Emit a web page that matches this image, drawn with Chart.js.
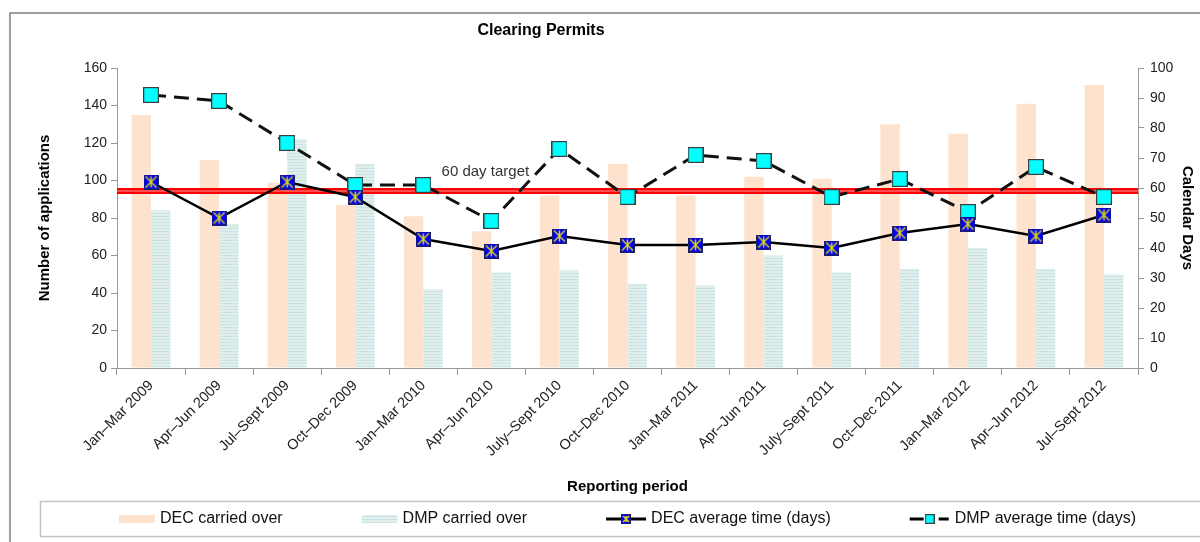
<!DOCTYPE html>
<html>
<head>
<meta charset="utf-8">
<script src="https://cdn.jsdelivr.net/npm/chart.js@4.4.1/dist/chart.umd.min.js"></script>
<style>
  body { margin: 0; background: #fff; }
  #wrap { width: 1200px; height: 542px; }
</style>
</head>
<body>
<div id="wrap"><canvas id="chart" width="1200" height="542"></canvas></div>
<script>
// data
var categories = ['Jan\u2013Mar 2009', 'Apr\u2013Jun 2009', 'Jul\u2013Sept 2009', 'Oct\u2013Dec 2009',
    'Jan\u2013Mar 2010', 'Apr\u2013Jun 2010', 'July\u2013Sept 2010', 'Oct\u2013Dec 2010',
    'Jan\u2013Mar 2011', 'Apr\u2013Jun 2011', 'July\u2013Sept 2011', 'Oct\u2013Dec 2011',
    'Jan\u2013Mar 2012', 'Apr\u2013Jun 2012', 'Jul\u2013Sept 2012'];
var decCarried = [135, 111, 99, 87, 81, 73, 92, 109, 92, 102, 101, 130, 125, 141, 151];
var dmpCarried = [84, 77, 122, 109, 42, 51, 52, 45, 44, 60, 51, 53, 64, 53, 50];
var decAvgDays = [62, 50, 62, 57, 43, 39, 44, 41, 41, 42, 40, 45, 48, 44, 51];
var dmpAvgDays = [91, 89, 75, 61, 61, 49, 73, 57, 71, 69, 57, 63, 52, 67, 57];
var targetDays = 59;
var targetLabel = '60 day target';
var appsMax = 160, appsStep = 20;
var daysMax = 100, daysStep = 10;

var FONT = "'Liberation Sans', Arial, sans-serif";
Chart.defaults.font.family = FONT;
Chart.defaults.color = '#222';

var canvas = document.getElementById('chart');
var ctx = canvas.getContext('2d');

var peach = '#fde3cd';

// horizontal hatch for DMP bars
var pc = document.createElement('canvas');
pc.width = 4; pc.height = 3;
var pctx = pc.getContext('2d');
pctx.fillStyle = '#e0efed';
pctx.fillRect(0, 0, 4, 3);
pctx.fillStyle = '#cbe3e3';
pctx.fillRect(0, 0, 4, 1);
var hatch = ctx.createPattern(pc, 'repeat');

function decMarker(size) {
    var c = document.createElement('canvas');
    c.width = size; c.height = size;
    var g = c.getContext('2d');
    g.fillStyle = '#0000ff';
    g.fillRect(1, 1, size - 2, size - 2);
    g.strokeStyle = '#1c1c70';
    g.lineWidth = 1;
    g.strokeRect(0.5, 0.5, size - 1, size - 1);
    g.strokeStyle = '#e6e000';
    g.lineWidth = 1.4;
    g.beginPath();
    g.moveTo(2, 2); g.lineTo(size - 2, size - 2);
    g.moveTo(size - 2, 2); g.lineTo(2, size - 2);
    g.moveTo(size / 2, 2); g.lineTo(size / 2, size - 2);
    g.stroke();
    return c;
}

function dmpMarker(size) {
    var c = document.createElement('canvas');
    c.width = size; c.height = size;
    var g = c.getContext('2d');
    g.fillStyle = '#00ffff';
    g.fillRect(1, 1, size - 2, size - 2);
    g.strokeStyle = '#3c3c3c';
    g.lineWidth = 1.2;
    g.strokeRect(0.6, 0.6, size - 1.2, size - 1.2);
    return c;
}

var decPoint = decMarker(15);
var dmpPoint = dmpMarker(16);

var targetPlugin = {
    id: 'target',
    beforeDatasetsDraw: function (chart) { chart.$targetDone = false; },
    beforeDatasetDraw: function (chart, args) {
        if (chart.$targetDone || args.meta.type !== 'line') return;
        chart.$targetDone = true;
        var a = chart.chartArea;
        var y = chart.scales.y1.getPixelForValue(targetDays);
        var c = chart.ctx;
        c.save();
        c.beginPath();
        c.moveTo(a.left, y); c.lineTo(a.right, y);
        c.strokeStyle = '#ff0000';
        c.lineWidth = 6;
        c.stroke();
        c.beginPath();
        c.moveTo(a.left, y); c.lineTo(a.right, y);
        c.strokeStyle = '#ff9a9a';
        c.lineWidth = 1.2;
        c.stroke();
        c.font = '15px ' + FONT;
        c.fillStyle = '#333';
        c.textAlign = 'center';
        c.textBaseline = 'middle';
        c.fillText(targetLabel, chart.scales.x.getPixelForValue(5) - 6, y - 19);
        c.restore();
    }
};

var decorPlugin = {
    id: 'decor',
    afterDraw: function (chart) {
        var c = chart.ctx;
        var a = chart.chartArea;
        c.save();
        // outer frame
        c.strokeStyle = '#808080';
        c.lineWidth = 1.5;
        c.beginPath();
        c.moveTo(10, 542); c.lineTo(10, 13); c.lineTo(1200, 13);
        c.stroke();
        // title
        c.fillStyle = '#000';
        c.font = 'bold 16px ' + FONT;
        c.textAlign = 'center';
        c.textBaseline = 'middle';
        c.fillText('Clearing Permits', 541, 31);
        // legend
        c.strokeStyle = '#c4c4c4';
        c.lineWidth = 1.5;
        c.strokeRect(40.5, 501.5, 1180, 35);
        c.font = '16px ' + FONT;
        c.textAlign = 'left';
        var ds = chart.data.datasets;
        var order = [0, 1, 2, 3];
        var iconW = [36, 36, 40, 40];
        var gap = 5, spacing = 79;
        var total = spacing * 3;
        order.forEach(function (i) { total += iconW[i] + gap + c.measureText(ds[i].label).width; });
        var x = (a.left + a.right) / 2 - total / 2;
        var y = 519;
        order.forEach(function (i) {
            if (i === 0 || i === 1) {
                c.fillStyle = i === 0 ? peach : hatch;
                c.fillRect(x, y - 4, 36, 8);
            } else if (i === 2) {
                c.strokeStyle = '#000';
                c.lineWidth = 3;
                c.beginPath(); c.moveTo(x, y); c.lineTo(x + 40, y); c.stroke();
                c.drawImage(decMarker(10), x + 15, y - 5);
            } else {
                c.strokeStyle = '#000';
                c.lineWidth = 3;
                c.beginPath();
                c.moveTo(x, y); c.lineTo(x + 14, y);
                c.moveTo(x + 29, y); c.lineTo(x + 39, y);
                c.stroke();
                c.drawImage(dmpMarker(10), x + 15, y - 5);
            }
            x += iconW[i] + gap;
            c.fillStyle = '#111';
            c.fillText(ds[i].label, x, y);
            x += c.measureText(ds[i].label).width + spacing;
        });
        c.restore();
    }
};

var chart = new Chart(ctx, {
    type: 'bar',
    data: {
        labels: categories,
        datasets: [{
            label: 'DEC carried over',
            data: decCarried,
            backgroundColor: peach,
            yAxisID: 'y',
            order: 2,
            categoryPercentage: 0.57,
            barPercentage: 1.0
        }, {
            label: 'DMP carried over',
            data: dmpCarried,
            backgroundColor: hatch,
            yAxisID: 'y',
            order: 2,
            categoryPercentage: 0.57,
            barPercentage: 1.0
        }, {
            type: 'line',
            label: 'DEC average time (days)',
            data: decAvgDays,
            yAxisID: 'y1',
            borderColor: '#000',
            borderWidth: 2.5,
            pointStyle: decPoint,
            order: 0
        }, {
            type: 'line',
            label: 'DMP average time (days)',
            data: dmpAvgDays,
            yAxisID: 'y1',
            borderColor: '#111',
            borderWidth: 3,
            borderDash: [15, 8],
            pointStyle: dmpPoint,
            order: 1
        }]
    },
    options: {
        responsive: false,
        animation: false,
        layout: { padding: { top: 68, left: 10, right: 0, bottom: 44 } },
        plugins: {
            legend: { display: false },
            title: { display: false },
            tooltip: { enabled: false }
        },
        scales: {
            x: {
                offset: true,
                grid: { display: true, drawOnChartArea: false, offset: true, tickLength: 7, color: '#999' },
                border: { color: '#999' },
                ticks: { autoSkip: false, minRotation: 45, maxRotation: 45, padding: 2, font: { size: 14.5 }, color: '#222' },
                title: { display: true, text: 'Reporting period', color: '#000', font: { size: 15, weight: 'bold' }, padding: { top: 0, bottom: 2 } },
                afterFit: function (s) { s.height = 130; }
            },
            y: {
                position: 'left',
                min: 0, max: appsMax,
                grid: { drawOnChartArea: false, tickLength: 6, color: '#999' },
                border: { color: '#999' },
                ticks: { stepSize: appsStep, padding: 4, font: { size: 14 }, color: '#222' },
                title: { display: true, text: 'Number of applications', color: '#000', font: { size: 15, weight: 'bold' }, padding: { top: 26, bottom: 0 } },
                afterFit: function (s) { s.width = 107; }
            },
            y1: {
                position: 'right',
                min: 0, max: daysMax,
                grid: { drawOnChartArea: false, tickLength: 6, color: '#999' },
                border: { color: '#999' },
                ticks: { stepSize: daysStep, padding: 6, font: { size: 14 }, color: '#222' },
                title: { display: true, text: 'Calendar Days', color: '#000', font: { size: 15, weight: 'bold' }, padding: { top: 4, bottom: 0 } },
                afterFit: function (s) { s.width = 62; }
            }
        }
    },
    plugins: [targetPlugin, decorPlugin]
});
</script>
</body>
</html>
